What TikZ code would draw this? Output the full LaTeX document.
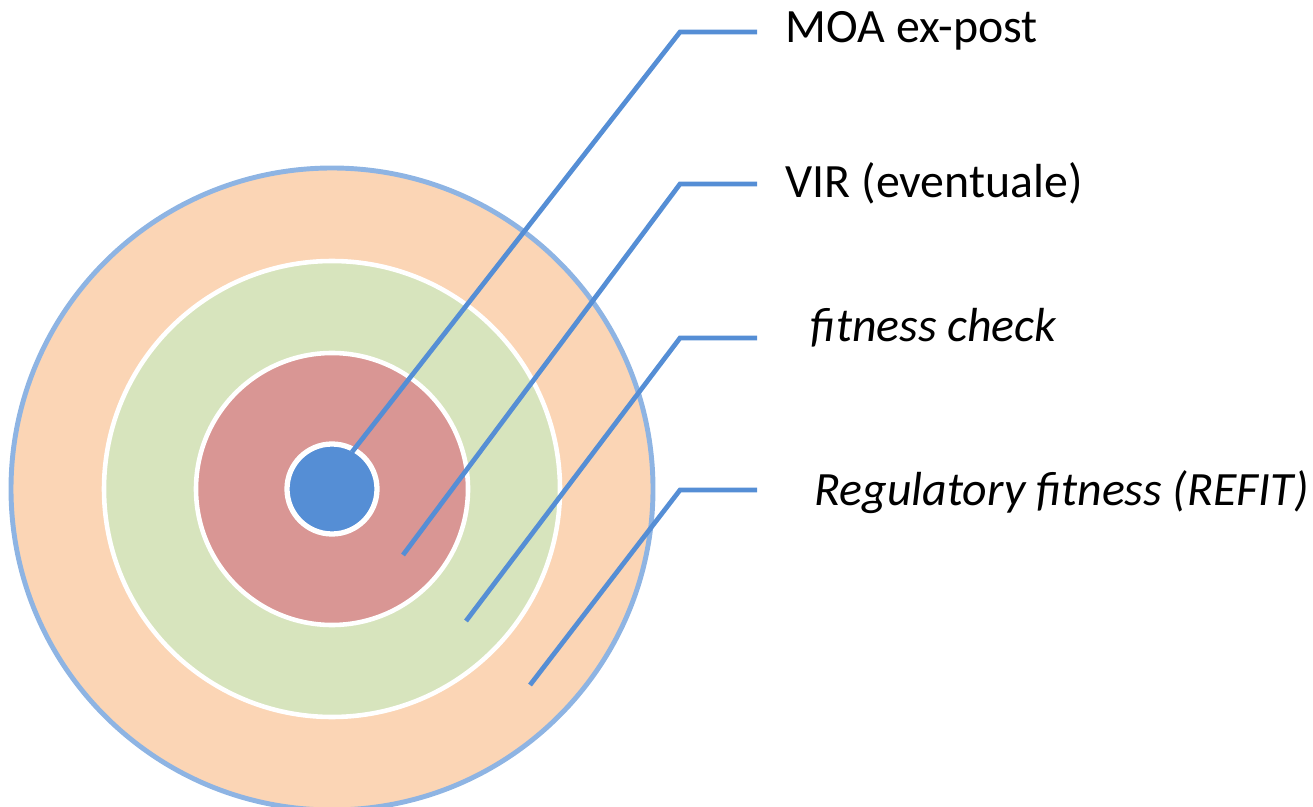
\documentclass[tikz,border=0pt]{standalone}
\usepackage{fontspec}
\setmainfont{Carlito}
\definecolor{ringblue}{HTML}{8EB4E3}
\definecolor{peach}{HTML}{FBD5B5}
\definecolor{sage}{HTML}{D7E4BD}
\definecolor{rose}{HTML}{D99694}
\definecolor{core}{HTML}{558ED5}
\tikzset{
  leader/.style={draw=core, line width=1.35pt},
  lbl/.style={anchor=west, inner sep=0pt, font=\fontsize{13.6pt}{16pt}\selectfont}
}
\begin{document}
\begin{tikzpicture}[x=0.01cm,y=-0.01cm]

\useasboundingbox (0,0) rectangle (1313,807);

\coordinate (C) at (332,489);

\fill[peach,draw=ringblue,line width=1.4pt] (C) circle (321);
\fill[sage,draw=white,line width=1.3pt] (C) circle (228);
\fill[rose,draw=white,line width=1.3pt] (C) circle (136);
\fill[core,draw=white,line width=1.5pt] (C) circle (45);

\coordinate (Pa) at (352,452);
\coordinate (Pb) at (403,555);
\coordinate (Pc) at (466,621);
\coordinate (Pd) at (530,685);

\coordinate (Ka) at (680,32);
\coordinate (Kb) at (680,184);
\coordinate (Kc) at (680,338);
\coordinate (Kd) at (680,490);

\coordinate (Ea) at (757,32);
\coordinate (Eb) at (757,184);
\coordinate (Ec) at (757,338);
\coordinate (Ed) at (757,490);

\draw[leader] (Pa) -- (Ka) -- (Ea);
\draw[leader] (Pb) -- (Kb) -- (Eb);
\draw[leader] (Pc) -- (Kc) -- (Ec);
\draw[leader] (Pd) -- (Kd) -- (Ed);

\node[lbl] (moa) at (785,31) {MOA ex-post};
\node[lbl] (vir) at (785,183) {VIR (eventuale)};
\node[lbl] (fit) at (810,328) {\itshape fitness check};
\node[lbl] (refit) at (814,492) {\itshape Regulatory fitness (REFIT)};

\end{tikzpicture}
\end{document}
